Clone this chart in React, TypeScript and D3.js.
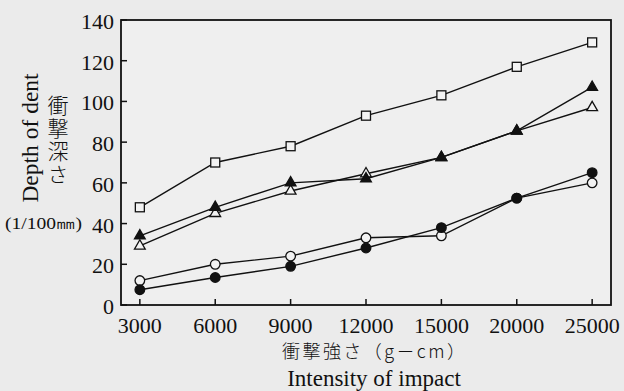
import { select, scaleLinear, scalePoint, line, symbol, symbolTriangle } from "d3";
import { useRef, useEffect } from "react";

// impact intensity (g-cm) on x, dent depth (1/100 mm) on y
const impacts = ["3000", "6000", "9000", "12000", "15000", "20000", "25000"];
const yTicks = [0, 20, 40, 60, 80, 100, 120, 140];

const openSquare = [48, 70, 78, 93, 103, 117, 129];
const filledTriangle = [34, 48, 60, 62, 72.5, 85.5, 107];
const openTriangle = [29, 45, 56, 64.5, 72.5, 85.5, 97];
const openCircle = [12, 20, 24, 33, 34, 52.5, 60];
const filledCircle = [7.5, 13.5, 19, 28, 38, 52.5, 65];

const series = [
  { name: "square", values: openSquare, shape: "square", fill: "#f2f2f2" },
  { name: "triOpen", values: openTriangle, shape: "triangle", fill: "#f2f2f2" },
  { name: "triFilled", values: filledTriangle, shape: "triangle", fill: "#111" },
  { name: "circOpen", values: openCircle, shape: "circle", fill: "#f2f2f2" },
  { name: "circFilled", values: filledCircle, shape: "circle", fill: "#111" },
];

const W = 624;
const H = 391;
const serif = "'Liberation Serif', 'DejaVu Serif', serif";
const cjk = "'Noto Sans CJK JP', sans-serif";

const App = () => {
  const svgRef = useRef<SVGSVGElement>(null);

  useEffect(() => {
    document.body.style.margin = "0";
    const svg = select(svgRef.current);
    svg.selectAll("*").remove();

    const left = 121, right = 611, top = 20, bottom = 305;

    svg.append("rect").attr("width", W).attr("height", H).attr("fill", "#ebebeb");

    const x = scalePoint<string>().domain(impacts).range([left, right]).padding(0.25);
    const y = scaleLinear().domain([0, 140]).range([bottom, top]);

    // frame
    svg
      .append("rect")
      .attr("x", left)
      .attr("y", top)
      .attr("width", right - left)
      .attr("height", bottom - top)
      .attr("fill", "#efefef")
      .attr("stroke", "#111")
      .attr("stroke-width", 1.8);

    // y ticks, pointing inward
    yTicks.forEach((t) => {
      svg
        .append("line")
        .attr("x1", left)
        .attr("x2", left + 6)
        .attr("y1", y(t))
        .attr("y2", y(t))
        .attr("stroke", "#111")
        .attr("stroke-width", 1.5);
      svg
        .append("text")
        .attr("x", 114)
        .attr("y", y(t) + 9)
        .attr("text-anchor", "end")
        .attr("font-family", serif)
        .attr("font-size", 22)
        .attr("fill", "#111")
        .text(t);
    });

    // x ticks, pointing inward
    impacts.forEach((c) => {
      svg
        .append("line")
        .attr("x1", x(c))
        .attr("x2", x(c))
        .attr("y1", bottom)
        .attr("y2", bottom - 6)
        .attr("stroke", "#111")
        .attr("stroke-width", 1.5);
      svg
        .append("text")
        .attr("x", x(c))
        .attr("y", 333)
        .attr("text-anchor", "middle")
        .attr("font-family", serif)
        .attr("font-size", 22)
        .attr("fill", "#111")
        .text(c);
    });

    // lines
    const path = line<number>()
      .x((d, i) => x(impacts[i]) as number)
      .y((d) => y(d));

    series.forEach((s) => {
      svg
        .append("path")
        .datum(s.values)
        .attr("d", path)
        .attr("fill", "none")
        .attr("stroke", "#111")
        .attr("stroke-width", 1.4);
    });

    // markers
    const tri = symbol().type(symbolTriangle).size(50);
    series.forEach((s) => {
      s.values.forEach((v, i) => {
        const cx = x(impacts[i]) as number;
        const cy = y(v);
        if (s.shape === "square") {
          svg
            .append("rect")
            .attr("x", cx - 4.5)
            .attr("y", cy - 4.5)
            .attr("width", 9)
            .attr("height", 9)
            .attr("fill", s.fill)
            .attr("stroke", "#111")
            .attr("stroke-width", 1.3);
        } else if (s.shape === "circle") {
          svg
            .append("circle")
            .attr("cx", cx)
            .attr("cy", cy)
            .attr("r", 4.8)
            .attr("fill", s.fill)
            .attr("stroke", "#111")
            .attr("stroke-width", 1.3);
        } else {
          svg
            .append("path")
            .attr("d", tri())
            .attr("transform", `translate(${cx},${cy})`)
            .attr("fill", s.fill)
            .attr("stroke", "#111")
            .attr("stroke-width", 1.3);
        }
      });
    });

    // y axis titles
    svg
      .append("text")
      .attr("transform", "translate(38,138) rotate(-90)")
      .attr("text-anchor", "middle")
      .attr("font-family", serif)
      .attr("font-size", 23.5)
      .attr("fill", "#111")
      .text("Depth of dent");

    // vertical japanese title
    svg
      .append("text")
      .attr("x", 58)
      .attr("y", 95)
      .attr("writing-mode", "vertical-rl")
      .style("text-orientation", "upright")
      .attr("font-family", cjk)
      .attr("font-size", 21)
      .attr("letter-spacing", 2)
      .attr("font-weight", 300)
      .attr("fill", "#111")
      .text("衝撃深さ");

    svg
      .append("text")
      .attr("x", 5)
      .attr("y", 229)
      .attr("font-family", serif)
      .attr("font-size", 17)
      .attr("textLength", 77)
      .attr("lengthAdjust", "spacingAndGlyphs")
      .attr("fill", "#111")
      .text("(1/100㎜)");

    // x axis titles
    svg
      .append("text")
      .attr("x", 282)
      .attr("y", 358)
      .attr("font-family", cjk)
      .attr("font-size", 18)
      .attr("font-weight", 300)
      .attr("textLength", 183)
      .attr("lengthAdjust", "spacing")
      .attr("fill", "#111")
      .text("衝撃強さ（g－cm）");

    svg
      .append("text")
      .attr("x", 374)
      .attr("y", 386)
      .attr("text-anchor", "middle")
      .attr("font-family", serif)
      .attr("font-size", 23)
      .attr("fill", "#111")
      .text("Intensity of impact");
  }, []);

  return <svg ref={svgRef} width={W} height={H} style={{ display: "block" }}></svg>;
};

export default App;
